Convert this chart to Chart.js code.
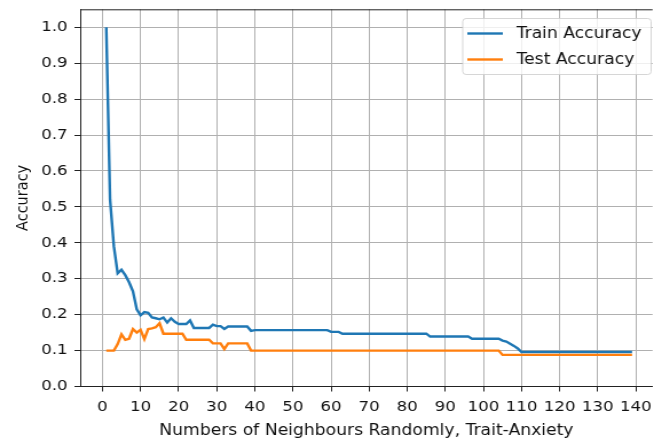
<!DOCTYPE html>
<html>
<head>
<meta charset="utf-8">
<script src="https://cdn.jsdelivr.net/npm/chart.js@4"></script>
<style>
  html, body { margin: 0; padding: 0; background: #fff; overflow: hidden; }
  /* the reference figure is stretched sideways, so draw narrow and scale */
  #wrap { position: absolute; left: 0; top: 0; width: 571px; height: 443px; transform: scaleX(1.14536); transform-origin: 0 0; }
</style>
</head>
<body>
<div id="wrap"><canvas id="myChart"></canvas></div>
<script>
const ctx = document.getElementById('myChart')

// k = 1 .. 139
const neighbours = Array.from({ length: 139 }, (_, i) => i + 1)

const trainAccuracy = [
  1.0, 0.52, 0.39, 0.315, 0.325, 0.31, 0.29, 0.265, 0.215, 0.198,
  0.207, 0.205, 0.192, 0.19, 0.187, 0.192, 0.178, 0.19, 0.18, 0.174,
  0.174, 0.174, 0.184, 0.163, 0.163, 0.163, 0.163, 0.163, 0.172, 0.168,
  0.168, 0.16, 0.167, 0.167, 0.167, 0.167, 0.167, 0.167, 0.155, 0.157,
  0.157, 0.157, 0.157, 0.157, 0.157, 0.157, 0.157, 0.157, 0.157, 0.157,
  0.157, 0.157, 0.157, 0.157, 0.157, 0.157, 0.157, 0.157, 0.157, 0.152,
  0.152, 0.152, 0.147, 0.147, 0.147, 0.147, 0.147, 0.147, 0.147, 0.147,
  0.147, 0.147, 0.147, 0.147, 0.147, 0.147, 0.147, 0.147, 0.147, 0.147,
  0.147, 0.147, 0.147, 0.147, 0.147, 0.139, 0.139, 0.139, 0.139, 0.139,
  0.139, 0.139, 0.139, 0.139, 0.139, 0.139, 0.133, 0.133, 0.133, 0.133,
  0.133, 0.133, 0.133, 0.133, 0.128, 0.125, 0.119, 0.113, 0.106, 0.096,
  0.096, 0.096, 0.096, 0.096, 0.096, 0.096, 0.096, 0.096, 0.096, 0.096,
  0.096, 0.096, 0.096, 0.096, 0.096, 0.096, 0.096, 0.096, 0.096, 0.096,
  0.096, 0.096, 0.096, 0.096, 0.096, 0.096, 0.096, 0.096, 0.096
]

const testAccuracy = [
  0.1, 0.1, 0.1, 0.118, 0.145, 0.13, 0.133, 0.16, 0.15, 0.158,
  0.132, 0.16, 0.162, 0.165, 0.176, 0.147, 0.147, 0.147, 0.147, 0.147,
  0.147, 0.13, 0.13, 0.13, 0.13, 0.13, 0.13, 0.13, 0.12, 0.12,
  0.12, 0.104, 0.12, 0.12, 0.12, 0.12, 0.12, 0.12, 0.1, 0.1,
  0.1, 0.1, 0.1, 0.1, 0.1, 0.1, 0.1, 0.1, 0.1, 0.1,
  0.1, 0.1, 0.1, 0.1, 0.1, 0.1, 0.1, 0.1, 0.1, 0.1,
  0.1, 0.1, 0.1, 0.1, 0.1, 0.1, 0.1, 0.1, 0.1, 0.1,
  0.1, 0.1, 0.1, 0.1, 0.1, 0.1, 0.1, 0.1, 0.1, 0.1,
  0.1, 0.1, 0.1, 0.1, 0.1, 0.1, 0.1, 0.1, 0.1, 0.1,
  0.1, 0.1, 0.1, 0.1, 0.1, 0.1, 0.1, 0.1, 0.1, 0.1,
  0.1, 0.1, 0.1, 0.1, 0.088, 0.088, 0.088, 0.088, 0.088, 0.088,
  0.088, 0.088, 0.088, 0.088, 0.088, 0.088, 0.088, 0.088, 0.088, 0.088,
  0.088, 0.088, 0.088, 0.088, 0.088, 0.088, 0.088, 0.088, 0.088, 0.088,
  0.088, 0.088, 0.088, 0.088, 0.088, 0.088, 0.088, 0.088, 0.088
]

const xTicks = [0, 10, 20, 30, 40, 50, 60, 70, 80, 90, 100, 110, 120, 130, 140]
const yTicks = [0.0, 0.1, 0.2, 0.3, 0.4, 0.5, 0.6, 0.7, 0.8, 0.9, 1.0]
const seriesNames = ['Train Accuracy', 'Test Accuracy']
const blue = '#1f77b4'
const orange = '#ff7f0e'

Chart.defaults.font.family = '"DejaVu Sans"'
Chart.defaults.font.size = 14.5
Chart.defaults.color = '#111'

// top spine + matplotlib style legend box
const frameAndLegend = {
  id: 'frameAndLegend',
  afterDraw(chart) {
    const c = chart.ctx
    const a = chart.chartArea
    c.save()
    c.strokeStyle = '#222'
    c.lineWidth = 1
    c.beginPath()
    c.moveTo(a.left, a.top + 0.5)
    c.lineTo(a.right, a.top + 0.5)
    c.stroke()

    c.beginPath()
    c.roundRect(404, 18.5, 164.5, 56, 3)
    c.fillStyle = 'rgba(255,255,255,0.8)'
    c.fill()
    c.strokeStyle = 'rgba(204,204,204,0.8)'
    c.stroke()

    const rows = [[33.5, blue], [59.5, orange]]
    c.font = '15px "DejaVu Sans"'
    c.textBaseline = 'middle'
    rows.forEach((r, i) => {
      c.strokeStyle = r[1]
      c.lineWidth = 2.4
      c.beginPath()
      c.moveTo(408, r[0])
      c.lineTo(439, r[0])
      c.stroke()
      c.fillStyle = '#111'
      c.fillText(seriesNames[i], 451, r[0] + 1)
    })
    c.restore()
  }
}

new Chart(ctx, {
  type: 'line',
  data: {
    labels: neighbours,
    datasets: [{
      label: seriesNames[0],
      data: trainAccuracy,
      borderColor: blue,
      borderWidth: 2.4,
      pointRadius: 0,
      tension: 0,
      order: 1
    }, {
      label: seriesNames[1],
      data: testAccuracy,
      borderColor: orange,
      borderWidth: 2.4,
      pointRadius: 0,
      tension: 0,
      order: 0
    }]
  },
  options: {
    animation: false,
    responsive: true,
    maintainAspectRatio: false,
    layout: { padding: { top: 9.3, left: 0, right: 0, bottom: 0 } },
    plugins: {
      legend: false,
      tooltip: { enabled: false }
    },
    scales: {
      x: {
        type: 'linear',
        min: -5.84,
        max: 144.4,
        afterBuildTicks: scale => { scale.ticks = xTicks.map(v => ({ value: v })) },
        afterFit: scale => {
          scale.height = 56.5
          scale.paddingLeft = 0
          scale.paddingRight = 0
        },
        ticks: { padding: 7, maxRotation: 0, autoSkip: false, callback: v => String(v) },
        grid: { color: '#b0b0b0', lineWidth: 1, tickLength: 5, tickColor: '#222', tickWidth: 1 },
        border: { color: '#222', width: 1 },
        title: {
          display: true,
          text: 'Numbers of Neighbours Randomly, Trait-Anxiety',
          font: { size: 15 },
          padding: { top: 0, bottom: 3 },
          color: '#111'
        }
      },
      y: {
        min: 0,
        max: 1.05,
        afterBuildTicks: scale => { scale.ticks = yTicks.map(v => ({ value: v })) },
        afterFit: scale => {
          scale.width = 70
          scale.paddingTop = 0
          scale.paddingBottom = 0
        },
        ticks: { padding: 6, autoSkip: false, callback: v => v.toFixed(1) },
        grid: { color: '#b0b0b0', lineWidth: 1, tickLength: 5, tickColor: '#222', tickWidth: 1 },
        border: { color: '#222', width: 1 },
        title: {
          display: true,
          text: 'Accuracy',
          font: { size: 14.5 },
          padding: { top: 12, bottom: 0 },
          color: '#111'
        }
      }
    }
  },
  plugins: [frameAndLegend]
})
</script>
</body>
</html>
